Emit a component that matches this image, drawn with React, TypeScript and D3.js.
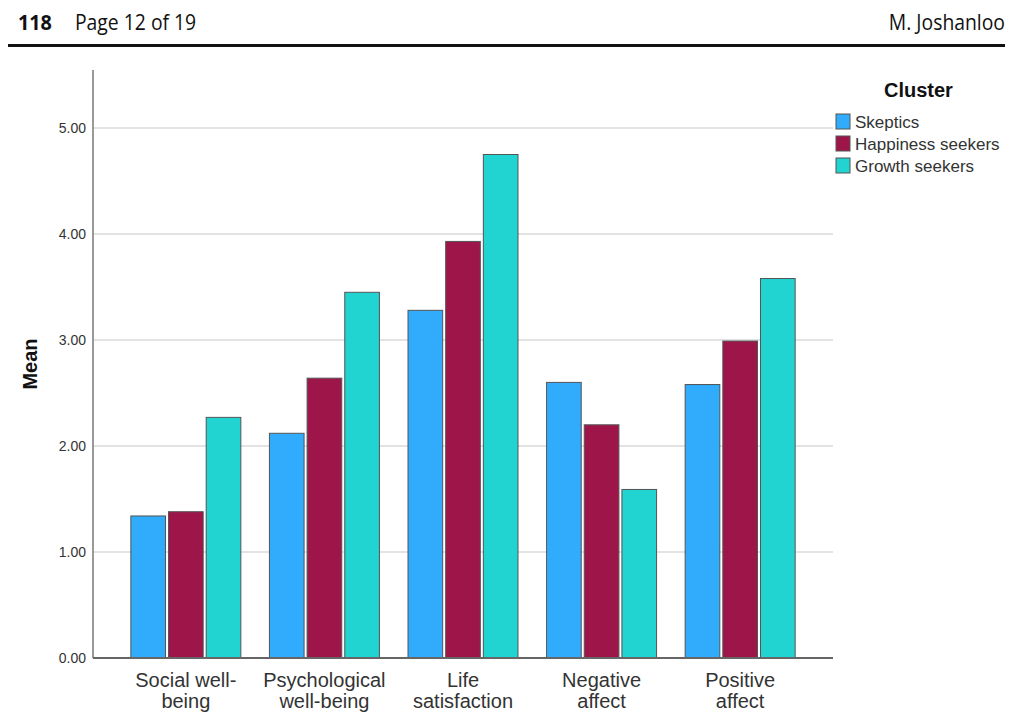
import { useEffect, useRef } from 'react';
import * as d3 from 'd3';

const categories = [
  ['Social well-', 'being'],
  ['Psychological', 'well-being'],
  ['Life', 'satisfaction'],
  ['Negative', 'affect'],
  ['Positive', 'affect'],
];
const seriesNames = ['Skeptics', 'Happiness seekers', 'Growth seekers'];
const skeptics = [1.34, 2.12, 3.28, 2.6, 2.58];
const happinessSeekers = [1.38, 2.64, 3.93, 2.2, 2.99];
const growthSeekers = [2.27, 3.45, 4.75, 1.59, 3.58];
const yTicks = [0, 1, 2, 3, 4, 5];
const colors = ['#31abfb', '#9e1649', '#21d3d1'];

const App = () => {
  const ref = useRef<SVGSVGElement>(null);

  useEffect(() => {
    const svg = d3.select(ref.current);
    svg.selectAll('*').remove();

    const width = 1024;
    const height = 726;
    const margin = { top: 70, right: 191, bottom: 68, left: 93 };
    const font = 'Liberation Sans, Arial, sans-serif';

    // page header
    const sx = 0.9;
    const head = svg.append('g').attr('font-family', 'Open Sans, sans-serif').attr('fill', '#111');
    head.append('text').attr('x', 18 / sx).attr('y', 30).attr('font-size', 22).attr('font-weight', 'bold').attr('transform', `scale(${sx},1)`).text('118');
    head.append('text').attr('x', 75 / sx).attr('y', 30).attr('font-size', 21.5).attr('transform', `scale(${sx},1)`).text('Page 12 of 19');
    head.append('text').attr('x', 1005 / sx).attr('y', 30).attr('font-size', 21.5).attr('text-anchor', 'end').attr('transform', `scale(${sx},1)`).text('M. Joshanloo');
    svg.append('rect').attr('x', 8).attr('y', 44).attr('width', 997).attr('height', 3).attr('fill', '#111');

    const x0 = margin.left;
    const x1 = width - margin.right;
    const yScale = d3.scaleLinear().domain([0, 5.55]).range([height - margin.bottom, height - margin.bottom - 5.55 * 106]);

    const x = d3
      .scalePoint<number>()
      .domain(categories.map((_, i) => i))
      .range([x0, x1])
      .padding(0.67);

    const inner = d3.scaleBand<number>().domain([0, 1, 2]).range([-55, 55]).paddingInner(0.08);

    // gridlines
    svg
      .append('g')
      .selectAll('line')
      .data(yTicks.filter((t) => t > 0))
      .join('line')
      .attr('x1', x0)
      .attr('x2', x1)
      .attr('y1', (d) => yScale(d))
      .attr('y2', (d) => yScale(d))
      .attr('stroke', '#c8c8c8')
      .attr('stroke-width', 1.2);

    const data = [skeptics, happinessSeekers, growthSeekers];

    const groups = svg
      .append('g')
      .selectAll('g')
      .data(categories.map((_, i) => i))
      .join('g')
      .attr('transform', (i) => `translate(${x(i)},0)`);

    groups
      .selectAll('rect')
      .data((i) => data.map((s, k) => ({ k, v: s[i] })))
      .join('rect')
      .attr('x', (d) => inner(d.k)!)
      .attr('width', inner.bandwidth())
      .attr('y', (d) => yScale(d.v))
      .attr('height', (d) => yScale(0) - yScale(d.v))
      .attr('fill', (d) => colors[d.k])
      .attr('stroke', '#555')
      .attr('stroke-width', 1);

    // axes
    svg.append('line').attr('x1', x0).attr('x2', x0).attr('y1', margin.top).attr('y2', yScale(0)).attr('stroke', '#999').attr('stroke-width', 2);
    svg.append('line').attr('x1', x0).attr('x2', x1).attr('y1', yScale(0)).attr('y2', yScale(0)).attr('stroke', '#666').attr('stroke-width', 2);

    svg
      .append('g')
      .selectAll('text')
      .data(yTicks)
      .join('text')
      .attr('x', x0 - 7)
      .attr('y', (d) => yScale(d) + 5)
      .attr('text-anchor', 'end')
      .attr('font-family', font)
      .attr('font-size', 14)
      .attr('fill', '#333')
      .text((d) => d3.format('.2f')(d));

    // two-line category labels, one text per line
    svg
      .append('g')
      .selectAll('text')
      .data(categories.flatMap((c, i) => c.map((line, j) => ({ line, j, i }))))
      .join('text')
      .attr('x', (d) => x(d.i)!)
      .attr('y', (d) => yScale(0) + 29 + d.j * 21)
      .attr('text-anchor', 'middle')
      .attr('font-family', font)
      .attr('font-size', 20)
      .attr('fill', '#333')
      .text((d) => d.line);

    svg
      .append('text')
      .attr('transform', `translate(37,${(margin.top + yScale(0)) / 2}) rotate(-90)`)
      .attr('text-anchor', 'middle')
      .attr('font-family', font)
      .attr('font-size', 20)
      .attr('font-weight', 'bold')
      .attr('fill', '#111')
      .text('Mean');

    // legend
    const lg = svg.append('g').attr('font-family', font);
    lg.append('text').attr('x', 884).attr('y', 97).attr('font-size', 20).attr('font-weight', 'bold').attr('fill', '#111').text('Cluster');
    const items = lg
      .selectAll('g.item')
      .data(seriesNames)
      .join('g')
      .attr('class', 'item')
      .attr('transform', (_, i) => `translate(836,${114 + i * 22})`);
    items.append('rect').attr('width', 14).attr('height', 15).attr('fill', (_, i) => colors[i]).attr('stroke', '#555');
    items.append('text').attr('x', 19).attr('y', 14).attr('font-size', 17).attr('fill', '#333').text((d) => d);
  }, []);

  return (
    <svg
      ref={ref}
      width={1024}
      height={726}
      style={{ position: 'absolute', left: 0, top: 0, background: '#fff' }}
    />
  );
};

export default App;
